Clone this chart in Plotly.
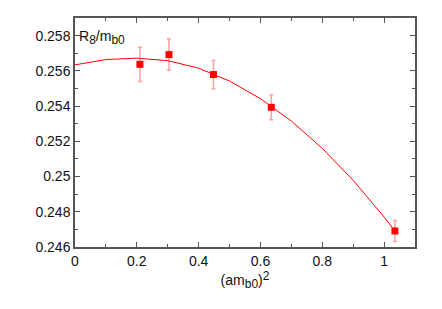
import plotly.graph_objects as go

# data points
x_pts = [0.21, 0.304, 0.448, 0.635, 1.035]
y_pts = [0.25637, 0.25692, 0.25579, 0.25393, 0.24691]
y_err = [0.00097, 0.00089, 0.00080, 0.00070, 0.00060]

x_fit = [0.0, 0.1, 0.2, 0.3, 0.4, 0.5, 0.6, 0.7, 0.8, 0.9, 1.0, 1.035]
y_fit = [0.25634, 0.25664, 0.25672, 0.25658, 0.25615, 0.25542, 0.25442, 0.25315, 0.25160, 0.24979, 0.24770, 0.24691]

x_ticks = [0, 0.2, 0.4, 0.6, 0.8, 1.0]
x_labels = ["0", "0.2", "0.4", "0.6", "0.8", "1"]
y_ticks = [0.246, 0.248, 0.25, 0.252, 0.254, 0.256, 0.258]
y_labels = ["0.246", "0.248", "0.25", "0.252", "0.254", "0.256", "0.258"]

font = dict(family="Liberation Sans, Arial, sans-serif", size=14, color="#111")
axcol = "#555"
sub = lambda s: "<sub><span style='font-size:12px'>" + s + "</span></sub>"

fig = go.Figure()
fig.add_trace(go.Scatter(x=x_fit, y=y_fit, mode="lines",
                         line=dict(color="red", width=1), showlegend=False))
fig.add_trace(go.Scatter(x=x_pts, y=y_pts, mode="markers",
                         marker=dict(symbol="square", size=7, color="red"),
                         error_y=dict(type="data", array=y_err, color="rgba(255,80,80,0.55)",
                                      thickness=1.5, width=2),
                         showlegend=False))

common = dict(showline=True, linecolor=axcol, linewidth=1.5, mirror="ticks",
              ticks="inside", ticklen=5, tickcolor=axcol, tickwidth=1,
              showgrid=False, zeroline=False, tickfont=font, automargin=False)
fig.update_xaxes(range=[0, 1.1], tickvals=x_ticks, ticktext=x_labels,
                 minor=dict(dtick=0.1, tick0=0, ticks="inside", ticklen=3, tickcolor=axcol),
                 title=dict(text="(am" + sub("b0") + ")<sup><span style='font-size:12px'>2</span></sup>",
                            font=font, standoff=7),
                 **common)
fig.update_yaxes(range=[0.246, 0.259], tickvals=y_ticks, ticktext=y_labels,
                 minor=dict(dtick=0.001, tick0=0.246, ticks="inside", ticklen=3, tickcolor=axcol),
                 **common)
fig.add_annotation(x=0, y=1, xref="paper", yref="paper", xanchor="left", yanchor="top",
                   xshift=2, yshift=-8, showarrow=False,
                   text="R" + sub("8") + "/m" + sub("b0"), font=font)
fig.update_layout(width=442, height=309, margin=dict(l=75, r=27, t=18, b=62),
                  paper_bgcolor="white", plot_bgcolor="white")
fig.write_html("out.html", config={"displayModeBar": False},
               post_script="document.body.style.margin='0';document.body.style.overflow='hidden';")
